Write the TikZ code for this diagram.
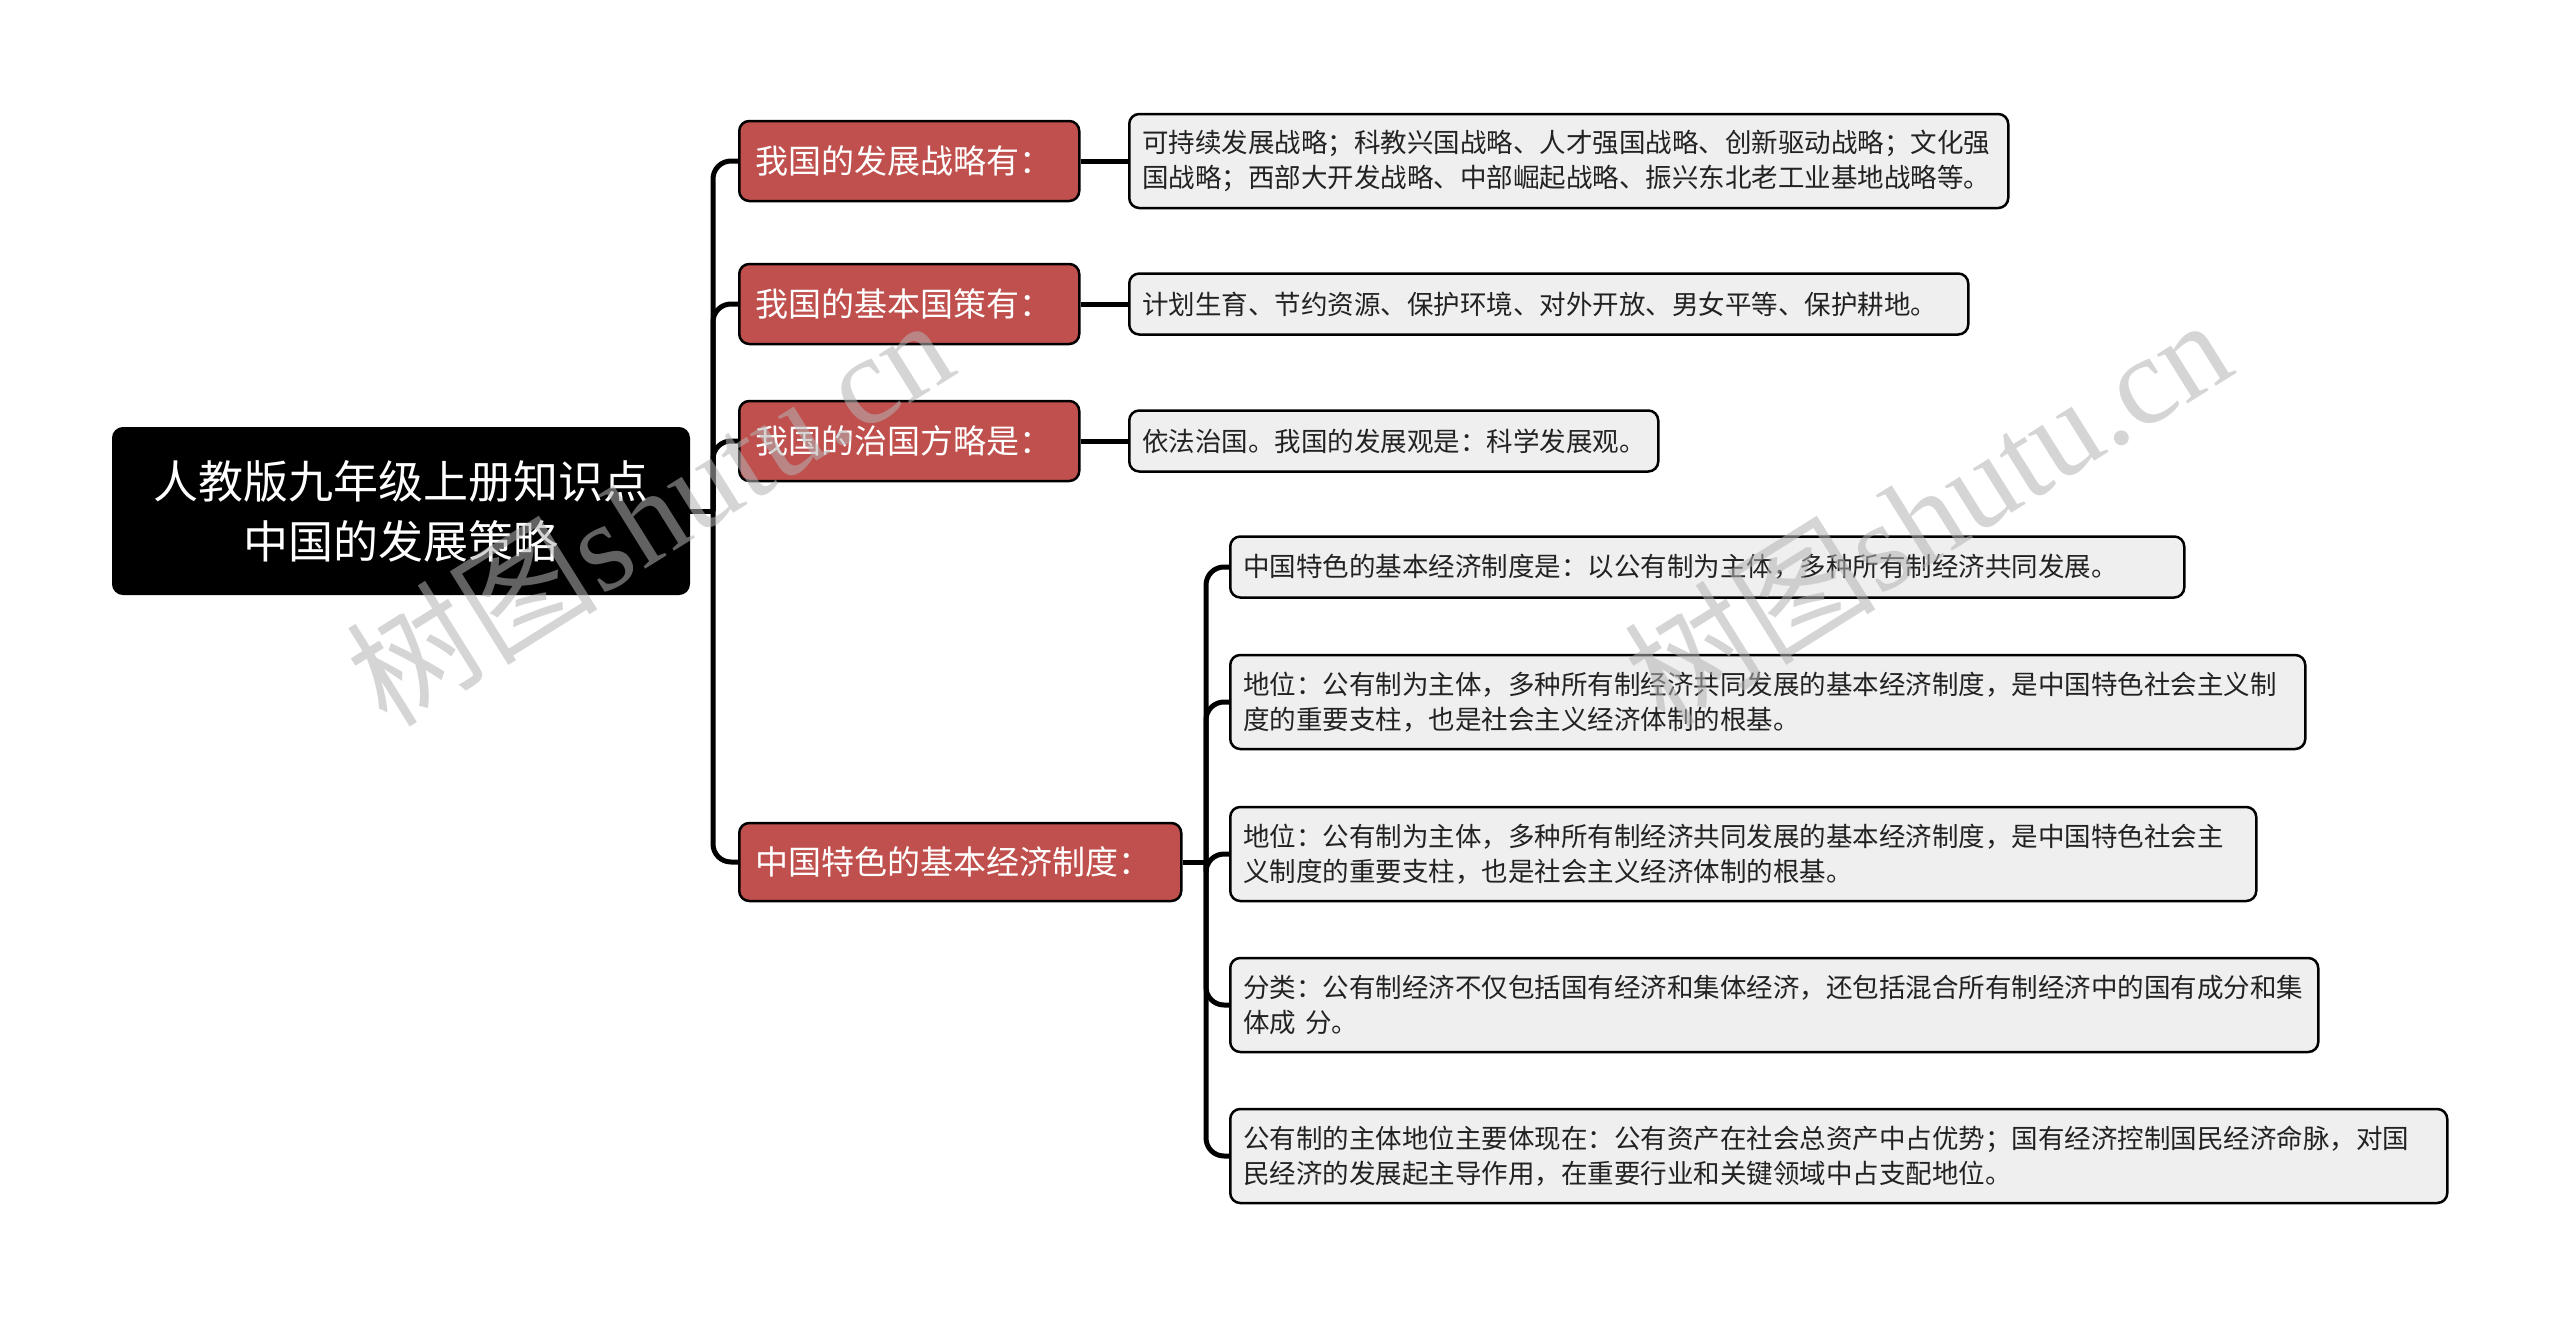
\documentclass[tikz,border=0pt]{standalone}
\usepackage{fontspec}
\setmainfont{Noto Sans CJK SC}
\newfontfamily\wmcjk{Noto Sans CJK SC}
\newfontfamily\wmlat{Liberation Serif}
\definecolor{redbox}{HTML}{C0504D}
\definecolor{graybox}{HTML}{EFEFEF}
\definecolor{txtdark}{HTML}{222222}
\definecolor{wmgray}{HTML}{B4B4B4}
\tikzset{
  conn/.style={line width=5pt, rounded corners=18pt, draw=black},
  rootbox/.style={fill=black, draw=black, line width=2pt, rounded corners=10pt, text=white,
    font=\fontsize{45}{60}\selectfont, align=center, minimum width=576pt,
    minimum height=166pt, inner sep=0pt},
  lonebox/.style={fill=redbox, draw=black, line width=2.5pt, rounded corners=10pt, text=white,
    font=\fontsize{33}{40}\selectfont, anchor=west, inner xsep=16pt, inner ysep=0pt,
    minimum height=80pt, align=left},
  ltwobox/.style={fill=graybox, draw=black, line width=2.5pt, rounded corners=10pt, text=txtdark,
    font=\fontsize{26.5}{35}\selectfont, anchor=west, inner xsep=13pt, inner ysep=0pt,
    align=left},
  onel/.style={minimum height=61pt},
  twol/.style={minimum height=94pt},
  wmark/.style={text=wmgray, text opacity=0.55, rotate=32, inner sep=0pt,
    font=\fontsize{126}{130}\selectfont},
}
\begin{document}
\begin{tikzpicture}[x=1pt,y=-1pt]
\path[use as bounding box, fill=white] (0,0) rectangle (2560,1317);

% root
\node[rootbox] (root) at (401,511) {人教版九年级上册知识点\\中国的发展策略};

% level 1
\node[lonebox, text width=308pt] (a1) at (738,161) {我国的发展战略有：};
\node[lonebox, text width=308pt] (b1) at (738,304) {我国的基本国策有：};
\node[lonebox, text width=308pt] (c1) at (738,441) {我国的治国方略是：};
\node[lonebox, text width=410pt, minimum height=78pt] (d1) at (738,862) {中国特色的基本经济制度：};

% level 2
\node[ltwobox, twol, text width=853pt] (a2) at (1128,161) {可持续发展战略；科教兴国战略、人才强国战略、创新驱动战略；文化强\\国战略；西部大开发战略、中部崛起战略、振兴东北老工业基地战略等。};
\node[ltwobox, onel, text width=813pt] (b2) at (1128,304) {计划生育、节约资源、保护环境、对外开放、男女平等、保护耕地。};
\node[ltwobox, onel, text width=503pt] (c2) at (1128,441) {依法治国。我国的发展观是：科学发展观。};

% level 3
\node[ltwobox, onel, text width=928pt] (d2) at (1229,567) {中国特色的基本经济制度是：以公有制为主体，多种所有制经济共同发展。};
\node[ltwobox, twol, text width=1049pt] (e2) at (1229,702) {地位：公有制为主体，多种所有制经济共同发展的基本经济制度，是中国特色社会主义制\\度的重要支柱，也是社会主义经济体制的根基。};
\node[ltwobox, twol, text width=1000pt] (f2) at (1229,854) {地位：公有制为主体，多种所有制经济共同发展的基本经济制度，是中国特色社会主\\义制度的重要支柱，也是社会主义经济体制的根基。};
\node[ltwobox, twol, text width=1062pt] (g2) at (1229,1005) {分类：公有制经济不仅包括国有经济和集体经济，还包括混合所有制经济中的国有成分和集\\体成 分。};
\node[ltwobox, twol, text width=1191pt] (h2) at (1229,1156) {公有制的主体地位主要体现在：公有资产在社会总资产中占优势；国有经济控制国民经济命脉，对国\\民经济的发展起主导作用，在重要行业和关键领域中占支配地位。};

% trunks
\coordinate (t1) at (713,511);
\coordinate (t2) at (1206,862);

\draw[conn] (root.east) -- (t1);
\foreach \n in {a1,b1,c1,d1} { \draw[conn] (t1) |- (\n.west); }

\draw[conn] (a1.east) -- (a1.east -| a2.west);
\draw[conn] (b1.east) -- (b1.east -| b2.west);
\draw[conn] (c1.east) -- (c1.east -| c2.west);

\draw[conn] (d1.east) -- (t2);
\foreach \n in {d2,e2,f2,g2,h2} { \draw[conn] (t2) |- (\n.west); }

% watermarks
\node[wmark] (wm1) at (649,510) {{\wmcjk 树图}{\wmlat shutu.cn}};
\node[wmark] (wm2) at (1927,510) {{\wmcjk 树图}{\wmlat shutu.cn}};
\end{tikzpicture}
\end{document}
